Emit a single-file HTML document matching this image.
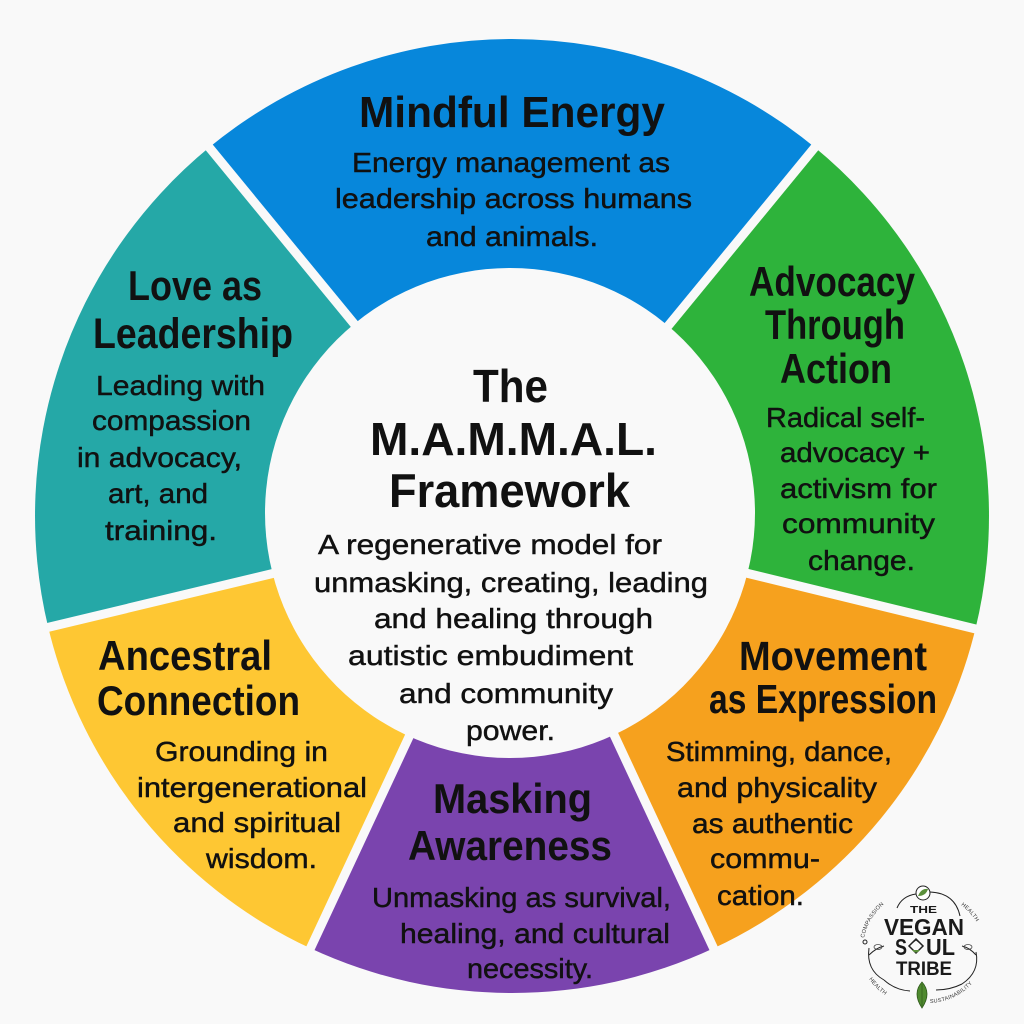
<!DOCTYPE html>
<html>
<head>
<meta charset="utf-8">
<style>
html,body{margin:0;padding:0;background:#f9f9f9;}
svg{display:block;}
.t{font-family:"Liberation Sans",Arial,sans-serif;font-weight:bold;fill:#111;}
.b{font-family:"Liberation Sans",Arial,sans-serif;fill:#111;stroke:#111;stroke-width:0.45;}
.l{font-family:"Liberation Sans",Arial,sans-serif;font-weight:bold;fill:#1a1a1a;}
.s{font-family:"Liberation Sans",Arial,sans-serif;fill:#333;font-size:5.5px;letter-spacing:0.3px;}
</style>
</head>
<body>
<svg width="1024" height="1024" viewBox="0 0 1024 1024" xmlns="http://www.w3.org/2000/svg">
  <rect x="0" y="0" width="1024" height="1024" fill="#f9f9f9"/>

  <!-- donut wedges -->
  <path d="M512,516 L209.2,147.4 A477,477 0 0 1 814.8,147.4 Z" fill="#0787db"/>
  <path d="M512,516 L814.8,147.4 A477,477 0 0 1 975.4,629.0 Z" fill="#2eb33b"/>
  <path d="M512,516 L975.4,629.0 A477,477 0 0 1 713.6,948.3 Z" fill="#f6a11e"/>
  <path d="M512,516 L713.6,948.3 A477,477 0 0 1 310.4,948.3 Z" fill="#7a44ae"/>
  <path d="M512,516 L310.4,948.3 A477,477 0 0 1 48.2,627.3 Z" fill="#fec733"/>
  <path d="M512,516 L48.2,627.3 A477,477 0 0 1 209.2,147.4 Z" fill="#25a8a7"/>

  <!-- gaps -->
  <g stroke="#f9f9f9" stroke-width="9" stroke-linecap="butt">
    <line x1="512" y1="516" x2="201.0" y2="137.4"/>
    <line x1="512" y1="516" x2="823.0" y2="137.4"/>
    <line x1="512" y1="516" x2="988.0" y2="632.0"/>
    <line x1="512" y1="516" x2="719.1" y2="960.1"/>
    <line x1="512" y1="516" x2="304.9" y2="960.1"/>
    <line x1="512" y1="516" x2="35.5" y2="630.4"/>
  </g>

  <!-- center -->
  <circle cx="510" cy="513" r="245" fill="#f9f9f9"/>

  <!-- Mindful Energy -->
  <text class="t" x="359" y="127" font-size="44" textLength="306" lengthAdjust="spacingAndGlyphs">Mindful Energy</text>
  <text class="b" x="352" y="172" font-size="28" textLength="318" lengthAdjust="spacingAndGlyphs">Energy management as</text>
  <text class="b" x="335" y="208" font-size="28" textLength="357" lengthAdjust="spacingAndGlyphs">leadership across humans</text>
  <text class="b" x="426" y="246" font-size="28" textLength="172" lengthAdjust="spacingAndGlyphs">and animals.</text>

  <!-- Love as Leadership -->
  <text class="t" x="128" y="300" font-size="42" textLength="134" lengthAdjust="spacingAndGlyphs">Love as</text>
  <text class="t" x="93" y="348" font-size="43" textLength="200" lengthAdjust="spacingAndGlyphs">Leadership</text>
  <text class="b" x="96" y="395" font-size="28" textLength="169" lengthAdjust="spacingAndGlyphs">Leading with</text>
  <text class="b" x="92" y="430" font-size="28" textLength="159" lengthAdjust="spacingAndGlyphs">compassion</text>
  <text class="b" x="77" y="467" font-size="28" textLength="165" lengthAdjust="spacingAndGlyphs">in advocacy,</text>
  <text class="b" x="108" y="503" font-size="28" textLength="100" lengthAdjust="spacingAndGlyphs">art, and</text>
  <text class="b" x="105" y="540" font-size="28" textLength="112" lengthAdjust="spacingAndGlyphs">training.</text>

  <!-- Advocacy Through Action -->
  <text class="t" x="749" y="296" font-size="42" textLength="166" lengthAdjust="spacingAndGlyphs">Advocacy</text>
  <text class="t" x="765" y="339" font-size="42" textLength="140" lengthAdjust="spacingAndGlyphs">Through</text>
  <text class="t" x="780" y="383" font-size="42" textLength="112" lengthAdjust="spacingAndGlyphs">Action</text>
  <text class="b" x="766" y="427" font-size="28" textLength="159" lengthAdjust="spacingAndGlyphs">Radical self-</text>
  <text class="b" x="780" y="462" font-size="28" textLength="150" lengthAdjust="spacingAndGlyphs">advocacy +</text>
  <text class="b" x="780" y="498" font-size="28" textLength="157" lengthAdjust="spacingAndGlyphs">activism for</text>
  <text class="b" x="782" y="533" font-size="28" textLength="153" lengthAdjust="spacingAndGlyphs">community</text>
  <text class="b" x="808" y="570" font-size="28" textLength="107" lengthAdjust="spacingAndGlyphs">change.</text>

  <!-- Center -->
  <text class="t" x="473" y="402" font-size="46" textLength="75" lengthAdjust="spacingAndGlyphs">The</text>
  <text class="t" x="370" y="455" font-size="46" textLength="287" lengthAdjust="spacingAndGlyphs">M.A.M.M.A.L.</text>
  <text class="t" x="389" y="507" font-size="47" textLength="241" lengthAdjust="spacingAndGlyphs">Framework</text>
  <text class="b" x="318" y="554" font-size="28" textLength="344" lengthAdjust="spacingAndGlyphs">A regenerative model for</text>
  <text class="b" x="314" y="592" font-size="28" textLength="394" lengthAdjust="spacingAndGlyphs">unmasking, creating, leading</text>
  <text class="b" x="374" y="628" font-size="28" textLength="279" lengthAdjust="spacingAndGlyphs">and healing through</text>
  <text class="b" x="348" y="665" font-size="28" textLength="285" lengthAdjust="spacingAndGlyphs">autistic embudiment</text>
  <text class="b" x="399" y="703" font-size="28" textLength="214" lengthAdjust="spacingAndGlyphs">and community</text>
  <text class="b" x="466" y="740" font-size="28" textLength="89" lengthAdjust="spacingAndGlyphs">power.</text>

  <!-- Ancestral Connection -->
  <text class="t" x="98" y="670" font-size="42" textLength="174" lengthAdjust="spacingAndGlyphs">Ancestral</text>
  <text class="t" x="97" y="715" font-size="42" textLength="203" lengthAdjust="spacingAndGlyphs">Connection</text>
  <text class="b" x="155" y="761" font-size="28" textLength="173" lengthAdjust="spacingAndGlyphs">Grounding in</text>
  <text class="b" x="137" y="797" font-size="28" textLength="230" lengthAdjust="spacingAndGlyphs">intergenerational</text>
  <text class="b" x="173" y="832" font-size="28" textLength="168" lengthAdjust="spacingAndGlyphs">and spiritual</text>
  <text class="b" x="206" y="868" font-size="28" textLength="111" lengthAdjust="spacingAndGlyphs">wisdom.</text>

  <!-- Masking Awareness -->
  <text class="t" x="433" y="813" font-size="42" textLength="159" lengthAdjust="spacingAndGlyphs">Masking</text>
  <text class="t" x="408" y="860" font-size="42" textLength="204" lengthAdjust="spacingAndGlyphs">Awareness</text>
  <text class="b" x="372" y="907" font-size="28" textLength="299" lengthAdjust="spacingAndGlyphs">Unmasking as survival,</text>
  <text class="b" x="400" y="943" font-size="28" textLength="270" lengthAdjust="spacingAndGlyphs">healing, and cultural</text>
  <text class="b" x="467" y="978" font-size="28" textLength="126" lengthAdjust="spacingAndGlyphs">necessity.</text>

  <!-- Movement as Expression -->
  <text class="t" x="739" y="670" font-size="41" textLength="188" lengthAdjust="spacingAndGlyphs">Movement</text>
  <text class="t" x="709" y="713" font-size="41" textLength="228" lengthAdjust="spacingAndGlyphs">as Expression</text>
  <text class="b" x="666" y="761" font-size="28" textLength="226" lengthAdjust="spacingAndGlyphs">Stimming, dance,</text>
  <text class="b" x="677" y="797" font-size="28" textLength="200" lengthAdjust="spacingAndGlyphs">and physicality</text>
  <text class="b" x="692" y="833" font-size="28" textLength="161" lengthAdjust="spacingAndGlyphs">as authentic</text>
  <text class="b" x="710" y="868" font-size="28" textLength="110" lengthAdjust="spacingAndGlyphs">commu-</text>
  <text class="b" x="717" y="905" font-size="28" textLength="87" lengthAdjust="spacingAndGlyphs">cation.</text>

  <!-- Logo -->
  <defs>
    <path id="pComp" d="M864,938 A60,60 0 0 1 893,898"/>
    <path id="pHealth1" d="M961,905 A60,60 0 0 1 982,934"/>
    <path id="pHealth2" d="M869,979 A60,60 0 0 0 892,999"/>
    <path id="pSust" d="M930,1003 A60,60 0 0 0 980,973"/>
  </defs>
  <g fill="none" stroke="#222" stroke-width="1">
    <path d="M930,892 Q955,893 960,916"/>
    <path d="M916,894 Q902,896 897,908"/>
    <path d="M869,948 Q866,970 884,980"/>
    <path d="M884,980 Q895,990 910,991"/>
    <path d="M976,952 Q980,972 962,984"/>
    <path d="M962,984 Q950,990 936,990"/>
    <circle cx="865" cy="942" r="2"/>
    <path d="M869,955 Q876,948 884,946"/>
    <path d="M976,955 Q970,948 962,946"/>
  </g>
  <circle cx="923" cy="893" r="7" fill="#fff" stroke="#222" stroke-width="1"/>
  <path d="M918,896 Q921,888 928,889 Q926,896 918,896 Z" fill="#5a8f3a"/>
  <ellipse cx="878" cy="947" rx="4" ry="2.5" fill="none" stroke="#444" stroke-width="0.8"/>
  <ellipse cx="968" cy="947" rx="4" ry="2.5" fill="none" stroke="#444" stroke-width="0.8"/>
  <text class="s"><textPath href="#pComp">COMPASSION</textPath></text>
  <text class="s"><textPath href="#pHealth1">HEALTH</textPath></text>
  <text class="s"><textPath href="#pHealth2">HEALTH</textPath></text>
  <text class="s"><textPath href="#pSust">SUSTAINABILITY</textPath></text>
  <text class="l" x="910" y="913" font-size="10" textLength="27" lengthAdjust="spacingAndGlyphs">THE</text>
  <text class="l" x="884" y="935" font-size="23" textLength="80" lengthAdjust="spacingAndGlyphs">VEGAN</text>
  <text class="l" x="895" y="955" font-size="23" textLength="12" lengthAdjust="spacingAndGlyphs">S</text>
  <text class="l" x="926" y="955" font-size="23" textLength="29" lengthAdjust="spacingAndGlyphs">UL</text>
  <g>
    <path d="M916,939 L923,946 L916,953 L909,946 Z" fill="none" stroke="#222" stroke-width="1.5"/>
    <path d="M912,950 Q916,955 920,950 Z" fill="#5a8f3a"/>
    <path d="M912,943 L916,940 L920,943" fill="none" stroke="#222" stroke-width="1"/>
  </g>
  <text class="l" x="896" y="975" font-size="19" textLength="56" lengthAdjust="spacingAndGlyphs">TRIBE</text>
  <path d="M922,982 Q932,993 922,1008 Q912,993 922,982 Z" fill="#4f8a2f" stroke="#2f5a1c" stroke-width="0.8"/>
  <line x1="922" y1="984" x2="922" y2="1006" stroke="#2f5a1c" stroke-width="0.7"/>
</svg>
</body>
</html>
